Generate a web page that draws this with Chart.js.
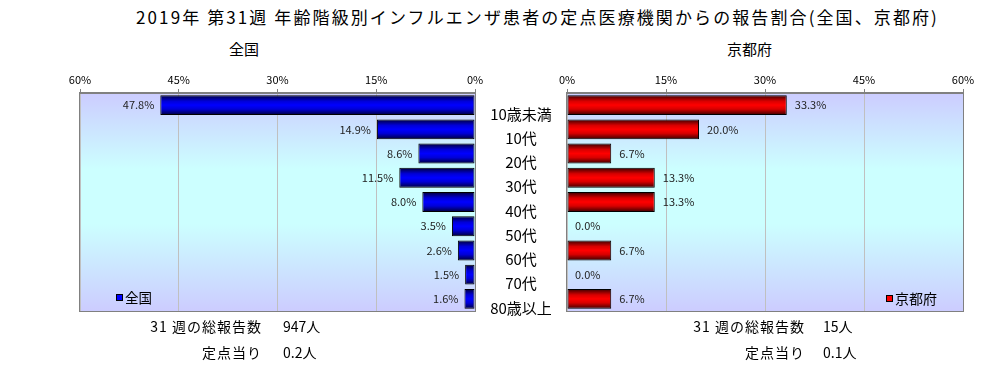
<!DOCTYPE html>
<html lang="ja">
<head>
<meta charset="utf-8">
<title>年齢階級別インフルエンザ患者の報告割合</title>
<script src="https://cdn.jsdelivr.net/npm/chart.js@4.4.1/dist/chart.umd.min.js"></script>
<style>
    body { margin: 0; background: #fff; font-family: "Noto Sans CJK JP", sans-serif; color: #000; }
    #wrap { position: relative; width: 1006px; height: 365px; overflow: hidden; }
    .txt { position: absolute; white-space: nowrap; line-height: 1; }
    canvas { position: absolute; }
    .key { display: inline-block; width: 5px; height: 5px; border: 1px solid #000; margin-right: 2px; vertical-align: 2px; }
</style>
</head>
<body>
<div id="wrap">
    <div class="txt" id="title" style="left:100px; width:875px; top:8px; text-align:center; font-size:17px; letter-spacing:2.1px;"></div>
    <div class="txt" style="left:229px; top:41px; font-size:15px;">全国</div>
    <div class="txt" style="left:727px; top:41px; font-size:15px;">京都府</div>

    <canvas id="leftChart" width="490" height="256" style="left:0; top:60px;"></canvas>
    <canvas id="rightChart" width="531" height="256" style="left:475px; top:60px;"></canvas>

    <div class="txt" style="left:116px; top:291px; font-size:13.5px;"><span class="key" style="background:#0000ff"></span>全国</div>
    <div class="txt" style="left:886px; top:291px; font-size:14px;"><span class="key" style="background:#ff0000"></span>京都府</div>

    <div class="txt" id="leftTotalLabel" style="right:744px; top:319px; font-size:14px; letter-spacing:1px;"></div>
    <div class="txt" id="leftTotal" style="left:283px; top:319px; font-size:14px;"></div>
    <div class="txt" style="right:744px; top:345px; font-size:14px; letter-spacing:1px;">定点当り</div>
    <div class="txt" id="leftPerSite" style="left:283px; top:345px; font-size:14px;"></div>

    <div class="txt" id="rightTotalLabel" style="right:201px; top:319px; font-size:14px; letter-spacing:1px;"></div>
    <div class="txt" id="rightTotal" style="left:823px; top:319px; font-size:14px;"></div>
    <div class="txt" style="right:201px; top:345px; font-size:14px; letter-spacing:1px;">定点当り</div>
    <div class="txt" id="rightPerSite" style="left:823px; top:345px; font-size:14px;"></div>
</div>

<script>
// data
const year = 2019;
const week = 31;
const ageGroups = ['10歳未満', '10代', '20代', '30代', '40代', '50代', '60代', '70代', '80歳以上'];
const nationalRates = [47.8, 14.9, 8.6, 11.5, 8.0, 3.5, 2.6, 1.5, 1.6];
const kyotoRates = [33.3, 20.0, 6.7, 13.3, 13.3, 0.0, 6.7, 0.0, 6.7];
const axisMax = 60;
const axisStep = 15;
const totals = [947, 15];      // 全国, 京都府
const perSite = [0.2, 0.1];    // 全国, 京都府

const FONT = '"Noto Sans CJK JP", sans-serif';
const BAR_PCT = 0.82;

document.getElementById('title').textContent =
    `${year}年 第${week}週 年齢階級別インフルエンザ患者の定点医療機関からの報告割合(全国、京都府)`;
document.getElementById('leftTotalLabel').textContent = `${week} 週の総報告数`;
document.getElementById('rightTotalLabel').textContent = `${week} 週の総報告数`;
document.getElementById('leftTotal').textContent = `${totals[0]}人`;
document.getElementById('rightTotal').textContent = `${totals[1]}人`;
document.getElementById('leftPerSite').textContent = `${perSite[0]}人`;
document.getElementById('rightPerSite').textContent = `${perSite[1]}人`;

// shaded bar fill, dark at the edges and bright in the middle
function shade(dark, mid, bright) {
    return function (c) {
        const chart = c.chart;
        const ys = chart.scales.y;
        if (c.dataIndex === undefined || !ys || !chart.chartArea) return bright;
        const yc = ys.getPixelForValue(c.dataIndex);
        const h = ys.height / ageGroups.length * BAR_PCT;
        const g = chart.ctx.createLinearGradient(0, yc - h / 2, 0, yc + h / 2);
        g.addColorStop(0, dark);
        g.addColorStop(0.3, mid);
        g.addColorStop(0.5, bright);
        g.addColorStop(0.7, mid);
        g.addColorStop(1, dark);
        return g;
    };
}

const plotBackground = {
    id: 'plotBackground',
    beforeDraw(chart) {
        const a = chart.chartArea;
        const ctx = chart.ctx;
        const g = ctx.createLinearGradient(0, a.top, 0, a.bottom);
        g.addColorStop(0, '#ccccff');
        g.addColorStop(0.35, '#ccffff');
        g.addColorStop(0.6, '#ccffff');
        g.addColorStop(1, '#ccccff');
        ctx.save();
        ctx.fillStyle = g;
        ctx.fillRect(a.left, a.top, a.right - a.left, a.bottom - a.top);
        ctx.restore();
    },
    afterDraw(chart) {
        const a = chart.chartArea;
        const ctx = chart.ctx;
        ctx.save();
        ctx.strokeStyle = '#808080';
        ctx.lineWidth = 1;
        ctx.strokeRect(Math.round(a.left) - 0.5, Math.round(a.top) - 0.5,
            Math.round(a.right - a.left) + 1, Math.round(a.bottom - a.top) + 1);
        ctx.restore();
    }
};

function barLabels(side) {
    return {
        id: 'barLabels',
        afterDatasetsDraw(chart) {
            const ctx = chart.ctx;
            const meta = chart.getDatasetMeta(0);
            const values = chart.data.datasets[0].data;
            ctx.save();
            ctx.font = '11px ' + FONT;
            ctx.fillStyle = '#222';
            ctx.textBaseline = 'middle';
            meta.data.forEach((bar, i) => {
                const text = values[i].toFixed(1) + '%';
                if (side === 'left') {
                    ctx.textAlign = 'right';
                    ctx.fillText(text, bar.x - 6, bar.y);
                } else {
                    ctx.textAlign = 'left';
                    ctx.fillText(text, bar.x + 8, bar.y);
                }
            });
            ctx.restore();
        }
    };
}

function xScale(reverse) {
    return {
        position: 'top',
        reverse: reverse,
        min: 0,
        max: axisMax,
        afterFit: s => { s.height = 33; },
        ticks: { stepSize: axisStep, padding: 3, color: '#000', font: { family: FONT, size: 11 }, callback: v => v + '%' },
        grid: { color: '#c0c0c0', tickLength: 4, tickColor: '#808080' },
        border: { color: '#808080' }
    };
}

// category labels sit centred in the gap between the two plots
const catFont = '15px ' + FONT;
const measure = document.createElement('canvas').getContext('2d');
measure.font = catFont;
const widest = Math.max(...ageGroups.map(t => measure.measureText(t).width));

new Chart(document.getElementById('leftChart').getContext('2d'), {
    type: 'bar',
    data: {
        labels: ageGroups,
        datasets: [{
            label: '全国',
            data: nationalRates,
            backgroundColor: shade('#000038', '#0000d8', '#0000ff'),
            borderColor: '#000',
            borderWidth: 1,
            borderSkipped: false,
            barPercentage: BAR_PCT,
            categoryPercentage: 1
        }]
    },
    options: {
        indexAxis: 'y',
        responsive: false,
        animation: false,
        layout: { padding: { left: 80, right: 15, top: 0, bottom: 5 } },
        plugins: { legend: { display: false }, tooltip: { enabled: false } },
        scales: {
            x: xScale(true),
            y: { display: false }
        }
    },
    plugins: [plotBackground, barLabels('left')]
});

new Chart(document.getElementById('rightChart').getContext('2d'), {
    type: 'bar',
    data: {
        labels: ageGroups,
        datasets: [{
            label: '京都府',
            data: kyotoRates,
            backgroundColor: shade('#380000', '#d80000', '#ff0000'),
            borderColor: '#000',
            borderWidth: 1,
            borderSkipped: false,
            barPercentage: BAR_PCT,
            categoryPercentage: 1
        }]
    },
    options: {
        indexAxis: 'y',
        responsive: false,
        animation: false,
        layout: { padding: { left: 0, right: 43, top: 0, bottom: 5 } },
        plugins: { legend: { display: false }, tooltip: { enabled: false } },
        scales: {
            x: xScale(false),
            y: {
                afterFit: s => {
                    s.width = 92;
                    s.paddingTop = 0;
                    s.paddingBottom = 0;
                },
                grid: { display: false, drawTicks: false },
                border: { display: false },
                ticks: {
                    crossAlign: 'center',
                    padding: 46 - widest / 2,
                    labelOffset: 9,
                    autoSkip: false,
                    color: '#000',
                    font: { family: FONT, size: 15 }
                }
            }
        }
    },
    plugins: [plotBackground, barLabels('right')]
});
</script>
</body>
</html>
